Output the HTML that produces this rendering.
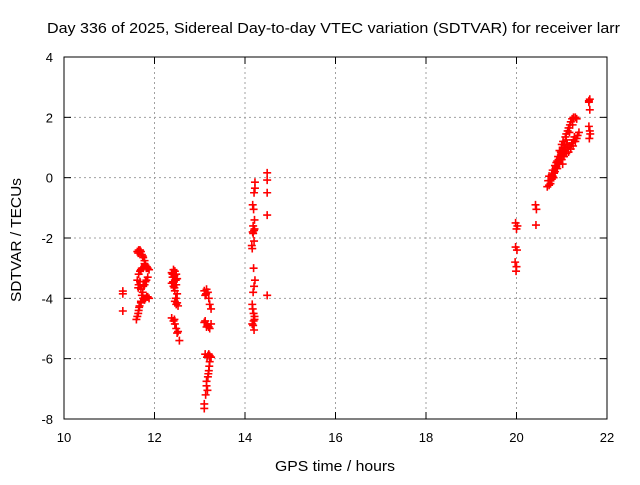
<!DOCTYPE html>
<html><head><meta charset="utf-8"><style>
body{margin:0;background:#fff;}
svg text{font-family:"Liberation Sans",sans-serif;font-size:13px;fill:#000;}
</style></head><body>
<svg id="chart" width="640" height="480" viewBox="0 0 640 480" xmlns="http://www.w3.org/2000/svg">
<rect width="640" height="480" fill="#fff"/>
<g id="grid"></g>
<g id="ticks"></g>
<g id="marks"></g>
<rect x="64" y="57" width="543" height="362" fill="none" stroke="#000" stroke-width="1"/>
<text x="47" y="33" textLength="573" lengthAdjust="spacingAndGlyphs" style="font-size:14.5px">Day 336 of 2025, Sidereal Day-to-day VTEC variation (SDTVAR) for receiver larr</text>
<text x="275" y="471" textLength="120" lengthAdjust="spacingAndGlyphs" style="font-size:14.5px">GPS time / hours</text>
<text transform="translate(21,302) rotate(-90)" textLength="124" lengthAdjust="spacingAndGlyphs" style="font-size:14.5px">SDTVAR / TECUs</text>
</svg>
<script>
const xTicks=[10,12,14,16,18,20,22];
const yTicks=[4,2,0,-2,-4,-6,-8];
const hours=[11.30,11.30,11.30,
11.62,11.65,11.70,11.72,11.75,11.78,11.80,11.82,11.85,11.75,11.70,11.65,11.62,11.65,11.70,11.75,11.80,11.85,11.72,11.75,11.80,11.85,11.88,11.70,11.67,11.65,11.62,11.60,
11.64,11.68,11.74,11.78,11.83,11.88,11.68,11.72,11.78,11.82,11.64,11.68,11.74,11.78,11.83,11.66,11.70,11.64,
12.38,12.42,12.45,12.48,12.50,12.40,12.38,12.42,12.45,12.50,12.45,12.48,12.52,12.38,12.42,12.45,12.48,12.52,12.55,
12.40,12.44,12.47,12.41,12.44,12.48,12.47,12.50,12.44,12.50,
13.10,13.15,13.18,13.12,13.20,13.22,13.25,13.10,13.15,13.20,13.25,13.12,13.18,13.25,13.22,13.20,13.18,13.15,13.13,13.10,13.10,
13.14,13.12,13.17,13.22,13.20,13.16,13.22,13.15,13.21,13.19,13.17,
14.22,14.22,14.20,14.17,14.19,14.21,14.18,14.17,14.20,14.16,14.19,14.22,14.20,14.18,14.16,14.19,14.21,14.18,14.20,
14.15,14.21,14.18,14.20,14.17,14.21,14.19,14.16,
14.49,14.49,14.49,14.49,14.49,
19.98,20.02,20.00,19.98,20.01,19.97,20.00,19.99,
20.42,20.44,20.43,
20.68,20.70,20.72,20.75,20.78,20.80,20.82,20.85,20.88,20.90,20.92,20.95,20.98,21.00,21.03,21.05,21.08,21.10,21.13,21.15,21.18,21.20,21.23,21.26,21.30,
21.00,21.05,21.10,21.15,21.20,21.25,21.30,21.35,21.38,21.02,20.95,21.08,20.85,20.90,20.98,21.12,21.22,21.28,
20.72,20.78,20.83,20.88,20.93,20.96,21.02,21.06,21.10,21.17,21.24,21.33,20.75,20.80,20.86,20.93,21.00,21.06,21.14,21.18,21.26,21.33,
21.62,21.60,21.62,21.60,21.63,21.61,21.60,21.62];
const values=[-3.76,-3.85,-4.42,
-2.45,-2.40,-2.45,-2.55,-2.65,-2.75,-2.90,-3.00,-3.00,-3.00,-3.05,-3.20,-3.40,-3.55,-3.70,-3.60,-3.45,-3.30,-3.90,-4.00,-4.00,-3.95,-4.00,-4.10,-4.25,-4.40,-4.60,-4.70,
-2.50,-2.40,-2.60,-2.85,-2.95,-3.05,-3.10,-3.00,-3.55,-3.40,-3.65,-3.45,-3.80,-4.05,-3.95,-4.30,-4.15,-4.50,
-3.15,-3.05,-3.10,-3.20,-3.35,-3.30,-3.50,-3.60,-3.75,-3.85,-4.10,-4.20,-4.25,-4.65,-4.75,-4.85,-5.00,-5.10,-5.40,
-3.20,-3.25,-3.40,-3.45,-3.65,-3.55,-4.00,-4.15,-4.70,-5.15,
-3.75,-3.70,-3.80,-3.90,-4.00,-4.20,-4.35,-4.80,-4.95,-4.95,-4.85,-5.85,-5.90,-5.95,-6.10,-6.40,-6.60,-6.90,-7.20,-7.50,-7.65,
-3.85,-4.75,-4.90,-5.00,-5.85,-5.95,-5.90,-6.75,-6.25,-6.50,-7.05,
-0.15,-0.35,-0.50,-0.90,-1.05,-1.40,-1.60,-1.80,-2.10,-2.35,-3.00,-3.40,-3.60,-3.80,-4.20,-4.50,-4.70,-4.90,-5.05,
-2.25,-1.70,-1.85,-1.75,-4.35,-4.60,-4.75,-4.85,
0.16,-0.08,-0.50,-1.24,-3.90,
-1.50,-1.60,-1.70,-2.30,-2.40,-2.80,-2.95,-3.10,
-0.90,-1.05,-1.57,
-0.30,-0.10,0.05,-0.20,0.10,0.25,0.00,0.40,0.50,0.30,0.70,0.90,0.75,1.10,1.20,1.00,1.35,1.45,1.55,1.65,1.75,1.85,1.95,2.00,2.00,
0.60,0.70,0.80,0.85,0.95,1.05,1.20,1.40,1.50,0.45,0.50,0.95,0.20,0.55,0.85,1.10,1.15,1.35,
-0.25,-0.05,0.15,0.35,0.45,0.65,0.85,1.05,1.25,1.50,1.75,1.95,-0.10,0.05,0.30,0.60,0.75,0.90,1.00,1.05,1.25,1.30,
2.60,2.50,2.25,1.70,1.45,1.30,2.55,1.55];
const NS='http://www.w3.org/2000/svg';
const X0=64,X1=607,Y0=419,Y1=57;
function xs(h){return X0+(h-10)/12*(X1-X0);}
function ys(v){return Y0-(v+8)/12*(Y0-Y1);}
function mk(tag,attrs,parent){const e=document.createElementNS(NS,tag);for(const k in attrs)e.setAttribute(k,attrs[k]);parent.appendChild(e);return e;}
const grid=document.getElementById('grid'),ticks=document.getElementById('ticks'),marks=document.getElementById('marks');
xTicks.forEach(t=>{const x=xs(t);
 if(t>10&&t<22){const g=mk('line',{x1:x,x2:x,y1:Y1,y2:Y0,stroke:'#a0a0a0','stroke-dasharray':'2,3'},grid);
 
 }
 const a=mk('line',{x1:x,x2:x,y1:Y0,y2:Y0-7,stroke:'#000'},ticks);
 
 
 const b=mk('line',{x1:x,x2:x,y1:Y1,y2:Y1+7,stroke:'#000'},ticks);
 
 
 const l=mk('text',{x:x,y:442,'text-anchor':'middle'},ticks);l.textContent=t;
 
 
});
yTicks.forEach(t=>{const y=ys(t);
 if(t>-8&&t<4){const g=mk('line',{x1:X0,x2:X1,y1:y,y2:y,stroke:'#a0a0a0','stroke-dasharray':'2,3'},grid);
 
 }
 const a=mk('line',{x1:X0,x2:X0+7,y1:y,y2:y,stroke:'#000'},ticks);
 
 
 const b=mk('line',{x1:X1,x2:X1-7,y1:y,y2:y,stroke:'#000'},ticks);
 
 
 const l=mk('text',{x:53,y:y+5,'text-anchor':'end'},ticks);l.textContent=t;
 
 
});
hours.forEach((h,i)=>{const x=xs(h),y=ys(values[i]);
 const p=mk('path',{d:`M${x-4},${y}h8M${x},${y-4}v8`,stroke:'#ff0000','stroke-width':1.6,fill:'none'},marks);
 
 
});
</script>
</body></html>
